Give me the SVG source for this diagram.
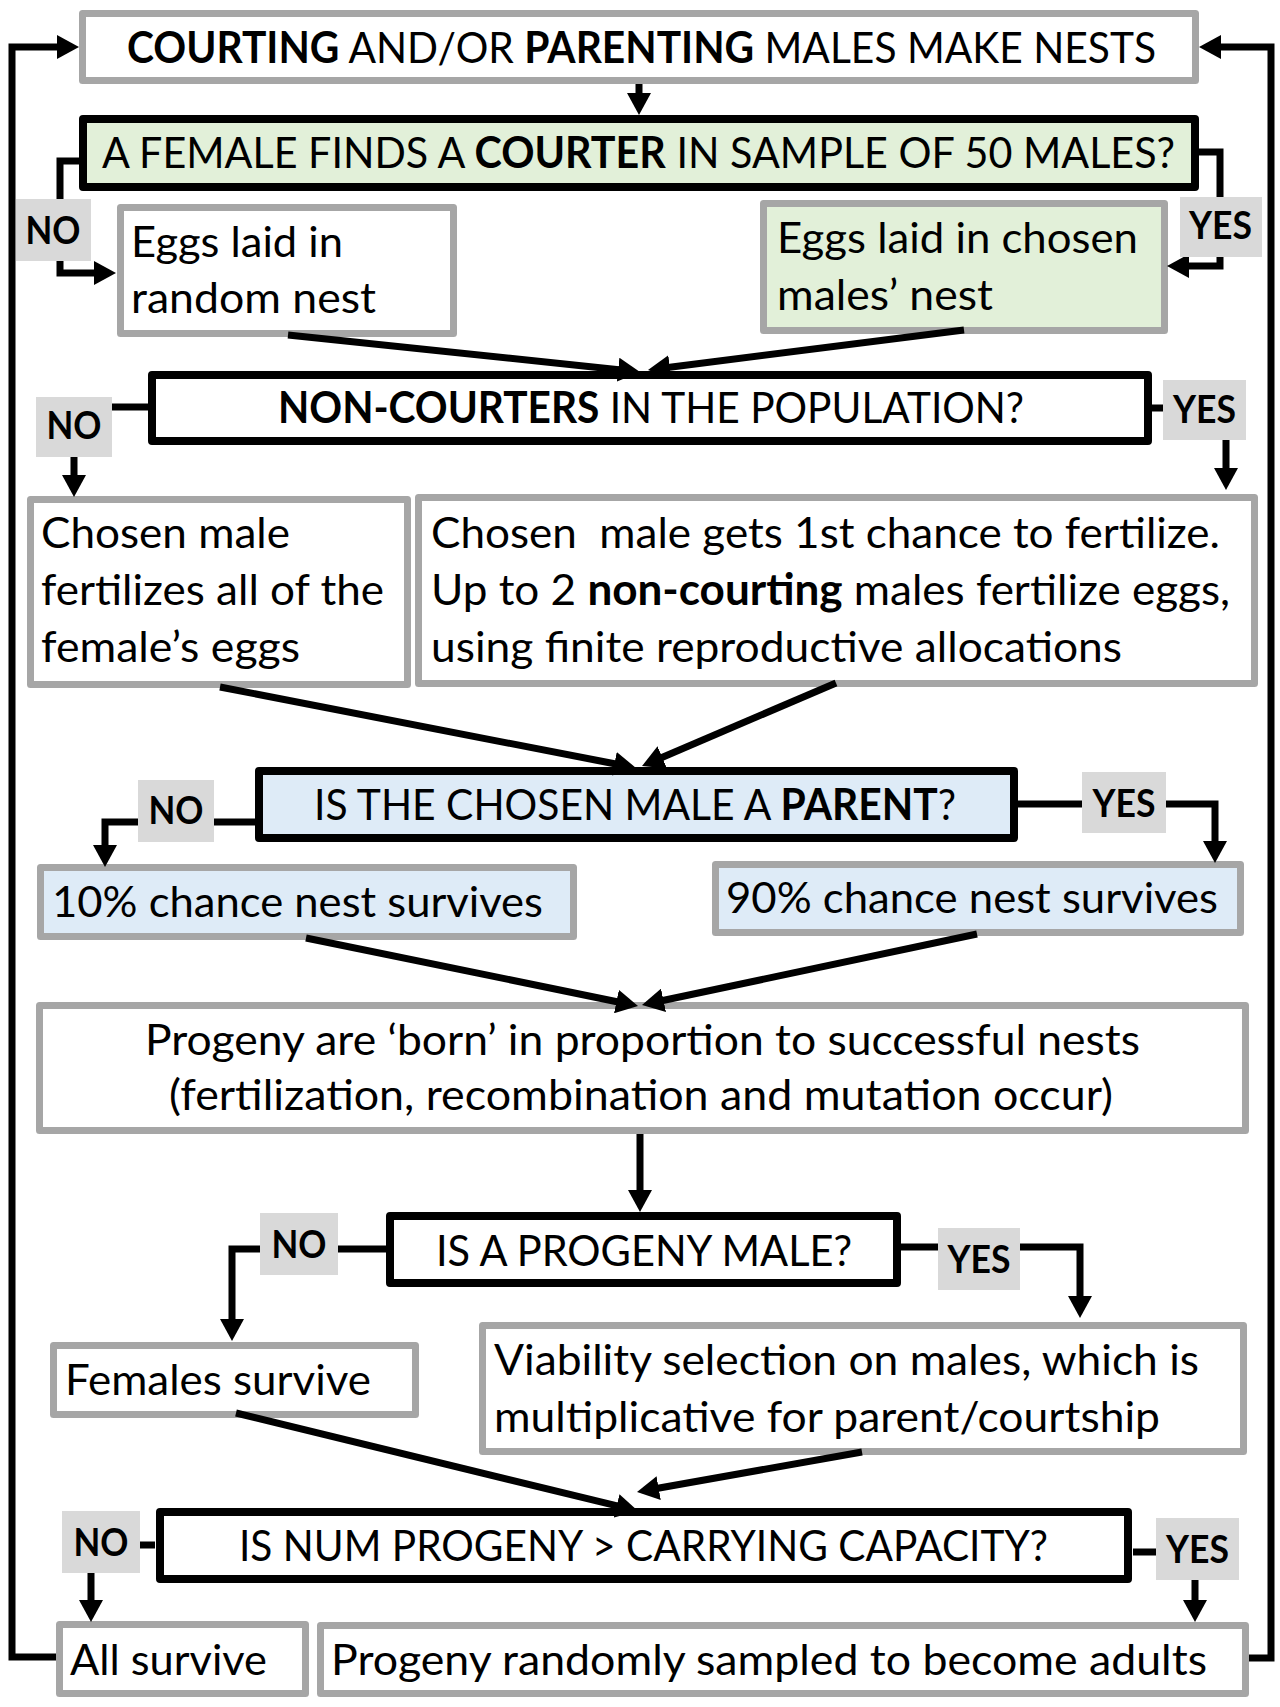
<svg xmlns="http://www.w3.org/2000/svg" width="1280" height="1707" viewBox="0 0 1280 1707">
<defs>
<style>
.g{fill:#ffffff;stroke:#a6a6a6;stroke-width:7;stroke-linejoin:round}
.gg{fill:#e2f0d9;stroke:#a6a6a6;stroke-width:7;stroke-linejoin:round}
.gb{fill:#deebf7;stroke:#a6a6a6;stroke-width:7;stroke-linejoin:round}
.k{fill:#ffffff;stroke:#000000;stroke-width:8;stroke-linejoin:round}
.kg{fill:#e2f0d9;stroke:#000000;stroke-width:8;stroke-linejoin:round}
.kb{fill:#deebf7;stroke:#000000;stroke-width:8;stroke-linejoin:round}
.lbl{fill:#d9d9d9}
.t{font-family:Lato,"Open Sans","Liberation Sans",sans-serif;font-size:43px;fill:#000000}
.lt{font-family:Lato,"Open Sans","Liberation Sans",sans-serif;font-size:37.5px;font-weight:bold;fill:#000000}
.b{font-weight:bold}
.c{fill:none;stroke:#000000;stroke-width:7;stroke-linejoin:miter;marker-end:url(#ah)}
</style>
<marker id="ah" viewBox="0 0 22 24" markerWidth="22" markerHeight="24" markerUnits="userSpaceOnUse" refX="8" refY="12" orient="auto">
<path d="M0,0 L22,12 L0,24 Z" fill="#000000"/>
</marker>
</defs>

<g id="nodes">
<g id="n-start">
<rect class="g" x="82.5" y="13.5" width="1113" height="67"/>
<text class="t" x="127" y="63" textLength="1029" lengthAdjust="spacingAndGlyphs"><tspan class="b">COURTING</tspan> AND/OR <tspan class="b">PARENTING</tspan> MALES MAKE NESTS</text>
</g>
<g id="n-find-courter">
<rect class="kg" x="83" y="119" width="1112" height="68"/>
<text class="t" x="102" y="168" textLength="1073" lengthAdjust="spacingAndGlyphs">A FEMALE FINDS A <tspan class="b">COURTER</tspan> IN SAMPLE OF 50 MALES?</text>
</g>
<g id="n-random-nest">
<rect class="g" x="120.5" y="207.5" width="333" height="126"/>
<text class="t" x="131" y="257" textLength="212" lengthAdjust="spacingAndGlyphs">Eggs laid in</text>
<text class="t" x="131" y="313" textLength="245" lengthAdjust="spacingAndGlyphs">random nest</text>
</g>
<g id="n-chosen-nest">
<rect class="gg" x="763.5" y="203.5" width="401" height="127"/>
<text class="t" x="777" y="253" textLength="361" lengthAdjust="spacingAndGlyphs">Eggs laid in chosen</text>
<text class="t" x="777" y="310" textLength="216" lengthAdjust="spacingAndGlyphs">males’ nest</text>
</g>
<g id="n-noncourters">
<rect class="k" x="152" y="375" width="996" height="66"/>
<text class="t" x="278" y="423" textLength="746" lengthAdjust="spacingAndGlyphs"><tspan class="b">NON-COURTERS</tspan> IN THE POPULATION?</text>
</g>
<g id="n-fert-all">
<rect class="g" x="30.5" y="499.5" width="377" height="185"/>
<text class="t" x="41" y="548" textLength="249" lengthAdjust="spacingAndGlyphs">Chosen male</text>
<text class="t" x="41" y="605" textLength="343" lengthAdjust="spacingAndGlyphs">fertilizes all of the</text>
<text class="t" x="41" y="662" textLength="259" lengthAdjust="spacingAndGlyphs">female’s eggs</text>
</g>
<g id="n-fert-shared">
<rect class="g" x="418.5" y="497.5" width="836" height="186"/>
<text class="t" x="431" y="548" textLength="789" lengthAdjust="spacingAndGlyphs" xml:space="preserve">Chosen  male gets 1st chance to fertilize.</text>
<text class="t" x="431" y="605" textLength="799" lengthAdjust="spacingAndGlyphs">Up to 2 <tspan class="b">non-courting</tspan> males fertilize eggs,</text>
<text class="t" x="431" y="662" textLength="691" lengthAdjust="spacingAndGlyphs">using finite reproductive allocations</text>
</g>
<g id="n-parent">
<rect class="kb" x="259" y="771" width="755" height="67"/>
<text class="t" x="314" y="820" textLength="642" lengthAdjust="spacingAndGlyphs">IS THE CHOSEN MALE A <tspan class="b">PARENT</tspan>?</text>
</g>
<g id="n-nest10">
<rect class="gb" x="40.5" y="867.5" width="533" height="69"/>
<text class="t" x="52" y="917" textLength="491" lengthAdjust="spacingAndGlyphs">10% chance nest survives</text>
</g>
<g id="n-nest90">
<rect class="gb" x="715.5" y="864.5" width="525" height="68"/>
<text class="t" x="726" y="913" textLength="492" lengthAdjust="spacingAndGlyphs">90% chance nest survives</text>
</g>
<g id="n-progeny">
<rect class="g" x="39.5" y="1005.5" width="1206" height="125"/>
<text class="t" x="145" y="1055" textLength="995" lengthAdjust="spacingAndGlyphs">Progeny are ‘born’ in proportion to successful nests</text>
<text class="t" x="169" y="1110" textLength="944" lengthAdjust="spacingAndGlyphs">(fertilization, recombination and mutation occur)</text>
</g>
<g id="n-male">
<rect class="k" x="390" y="1216" width="507" height="67"/>
<text class="t" x="436" y="1266" textLength="416" lengthAdjust="spacingAndGlyphs">IS A PROGENY MALE?</text>
</g>
<g id="n-females">
<rect class="g" x="53.5" y="1345.5" width="362" height="69"/>
<text class="t" x="65" y="1395" textLength="306" lengthAdjust="spacingAndGlyphs">Females survive</text>
</g>
<g id="n-viability">
<rect class="g" x="482.5" y="1325.5" width="761" height="126"/>
<text class="t" x="494" y="1375" textLength="705" lengthAdjust="spacingAndGlyphs">Viability selection on males, which is</text>
<text class="t" x="494" y="1432" textLength="666" lengthAdjust="spacingAndGlyphs">multiplicative for parent/courtship</text>
</g>
<g id="n-carrying">
<rect class="k" x="160" y="1512" width="968" height="67"/>
<text class="t" x="239" y="1561" textLength="809" lengthAdjust="spacingAndGlyphs">IS NUM PROGENY &gt; CARRYING CAPACITY?</text>
</g>
<g id="n-all-survive">
<rect class="g" x="59.5" y="1624.5" width="246" height="69"/>
<text class="t" x="70" y="1675" textLength="197" lengthAdjust="spacingAndGlyphs">All survive</text>
</g>
<g id="n-sampled">
<rect class="g" x="320.5" y="1625.5" width="925" height="68"/>
<text class="t" x="331" y="1675" textLength="876" lengthAdjust="spacingAndGlyphs">Progeny randomly sampled to become adults</text>
</g>
</g>

<g id="connectors">
<path class="c" d="M56,1657 H12 V47 H65"/>
<path class="c" d="M1249,1658 H1271 V47 H1213"/>
<path class="c" d="M639,84 V101"/>
<path class="c" d="M79,161 H60 V273 H102"/>
<path class="c" d="M1199,152 H1220 V266 H1181"/>
<path class="c" d="M288,335 L626.1,370.5"/>
<path class="c" d="M964,330 L661.9,368.2"/>
<path class="c" d="M148,407 H74 V483"/>
<path class="c" d="M1152,408 H1226 V476"/>
<path class="c" d="M220,687 L622.3,765.3"/>
<path class="c" d="M836,683 L654.9,760.5"/>
<path class="c" d="M255,822 H105 V853"/>
<path class="c" d="M1017,804 H1215 V849"/>
<path class="c" d="M306,938 L624.3,1003.2"/>
<path class="c" d="M977,934 L655.7,1002"/>
<path class="c" d="M640,1134 V1198"/>
<path class="c" d="M386,1249 H232 V1327"/>
<path class="c" d="M901,1247 H1080 V1304"/>
<path class="c" d="M236,1413 L624.4,1507.7"/>
<path class="c" d="M862,1452 L650.8,1489.5"/>
<path class="c" d="M155,1545 H91 V1608"/>
<path class="c" d="M1133,1552 H1195 V1608"/>
</g>

<g id="edge-labels">
<g id="l-no1"><rect class="lbl" x="16" y="199" width="75" height="62"/><text class="lt" x="25.5" y="244" textLength="55" lengthAdjust="spacingAndGlyphs">NO</text></g>
<g id="l-yes1"><rect class="lbl" x="1180" y="197" width="82" height="60"/><text class="lt" x="1189" y="239" textLength="63" lengthAdjust="spacingAndGlyphs">YES</text></g>
<g id="l-no2"><rect class="lbl" x="36" y="397" width="76" height="60"/><text class="lt" x="46.5" y="439" textLength="55" lengthAdjust="spacingAndGlyphs">NO</text></g>
<g id="l-yes2"><rect class="lbl" x="1163" y="380" width="83" height="60"/><text class="lt" x="1173" y="423" textLength="63" lengthAdjust="spacingAndGlyphs">YES</text></g>
<g id="l-no3"><rect class="lbl" x="138" y="780" width="76" height="62"/><text class="lt" x="148.5" y="824" textLength="55" lengthAdjust="spacingAndGlyphs">NO</text></g>
<g id="l-yes3"><rect class="lbl" x="1082" y="772" width="84" height="61"/><text class="lt" x="1092.5" y="817" textLength="63" lengthAdjust="spacingAndGlyphs">YES</text></g>
<g id="l-no4"><rect class="lbl" x="260" y="1213" width="78" height="62"/><text class="lt" x="271.5" y="1258" textLength="55" lengthAdjust="spacingAndGlyphs">NO</text></g>
<g id="l-yes4"><rect class="lbl" x="938" y="1228" width="82" height="62"/><text class="lt" x="947.5" y="1273" textLength="63" lengthAdjust="spacingAndGlyphs">YES</text></g>
<g id="l-no5"><rect class="lbl" x="62" y="1511" width="78" height="62"/><text class="lt" x="73.5" y="1556" textLength="55" lengthAdjust="spacingAndGlyphs">NO</text></g>
<g id="l-yes5"><rect class="lbl" x="1156" y="1518" width="83" height="62"/><text class="lt" x="1166" y="1563" textLength="63" lengthAdjust="spacingAndGlyphs">YES</text></g>
</g>
</svg>
